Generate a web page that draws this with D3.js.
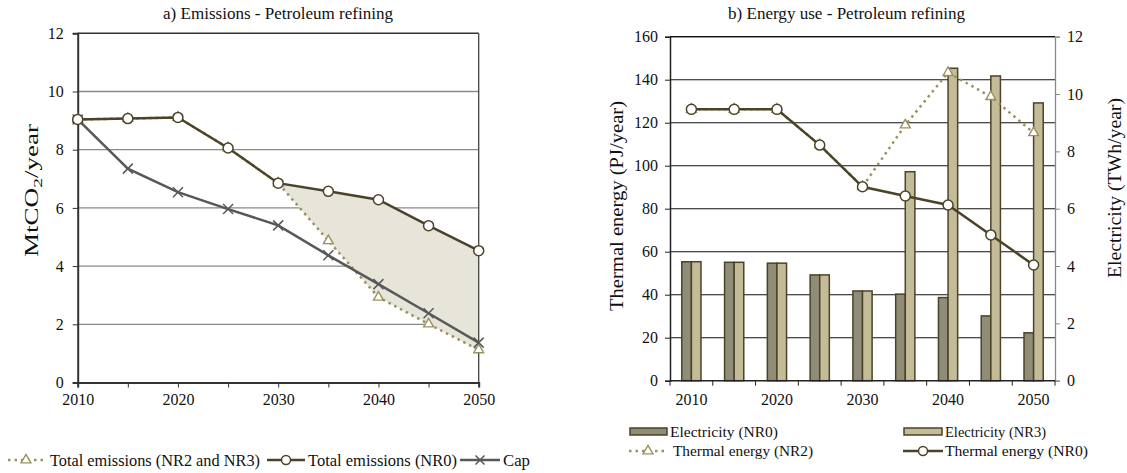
<!DOCTYPE html>
<html><head><meta charset="utf-8">
<script src="https://cdn.jsdelivr.net/npm/d3@7"></script>
<style>body{margin:0;background:#fff}svg{display:block}svg text{font-family:"Liberation Serif","Tinos","Times New Roman","DejaVu Serif",serif !important;fill:#111}</style>
</head><body><svg id="c" width="1127" height="473"></svg>
<script>
// ---- data ----
const years = [2010,2015,2020,2025,2030,2035,2040,2045,2050];
const emisNR0 = [9.04,9.07,9.11,8.06,6.85,6.57,6.28,5.39,4.53];
const emisNR23 = [9.04,9.07,9.11,8.06,6.85,4.87,2.93,2.01,1.12];
const cap = [9.04,7.35,6.54,5.96,5.40,4.37,3.38,2.38,1.37];
const elecNR0 = [4.15,4.13,4.10,3.69,3.13,3.02,2.90,2.26,1.67];   // TWh
const elecNR3 = [4.15,4.13,4.10,3.69,3.13,7.29,10.90,10.63,9.69]; // TWh
const thermNR0 = [126.2,126.2,126.2,109.6,90.2,85.9,81.7,67.8,53.8]; // PJ
const thermNR2 = [126.2,126.2,126.2,109.6,90.2,118.9,143.3,132.1,115.3]; // PJ
const leftYTicks = [0,2,4,6,8,10,12];
const xLabels = [2010,2020,2030,2040,2050];
const rightYTicks = [0,20,40,60,80,100,120,140,160];
const rightY2Ticks = [0,2,4,6,8,10,12];

const FONT = '"Liberation Serif","Tinos","Times New Roman","DejaVu Serif",serif';
const C = {dark:"#4b4327", cap:"#58585a", olive:"#9b9160", fill:"#e7e5d9", b0:"#8f8c78", b3:"#c4bc98", grid:"#8a8a8a"};
const svg = d3.select("#c").attr("font-family",FONT);
const TICK = 16;

function txt(g, x, y, s, size, len, anchor){
  const t = g.append("text").attr("x",x).attr("y",y).attr("font-size",size).text(s);
  if(anchor) t.attr("text-anchor",anchor);
  if(len) t.attr("textLength",len).attr("lengthAdjust","spacingAndGlyphs");
  return t;
}

// ================= Left chart =================
const L = {x0:77.7, x1:478.7, y0:382.5, y1:33.3};
const xL = d3.scaleLinear().domain([2010,2050]).range([L.x0,L.x1]);
const yL = d3.scaleLinear().domain([0,12]).range([L.y0,L.y1]);
const gL = svg.append("g");

gL.selectAll(".gl").data(leftYTicks.filter(d=>d>0&&d<12)).join("line")
  .attr("x1",L.x0).attr("x2",L.x1).attr("y1",d=>yL(d)).attr("y2",d=>yL(d))
  .attr("stroke",C.grid).attr("stroke-width",1.3);

const idx = years.map((y,i)=>i).filter(i=>years[i]>=2030);
gL.append("path").datum(idx)
  .attr("d", d3.area().x(i=>xL(years[i])).y0(i=>yL(emisNR23[i])).y1(i=>yL(emisNR0[i])))
  .attr("fill",C.fill);

gL.append("line").attr("x1",L.x0).attr("x2",L.x1).attr("y1",L.y1).attr("y2",L.y1).attr("stroke","#333").attr("stroke-width",1.5);
gL.append("line").attr("x1",L.x1).attr("x2",L.x1).attr("y1",L.y1).attr("y2",L.y0).attr("stroke","#444").attr("stroke-width",1.3);

function styleAxis(ax, col, w){
  ax.attr("font-family",FONT);
  ax.select(".domain").attr("stroke",col).attr("stroke-width",w);
  ax.selectAll(".tick line").attr("stroke",col);
  ax.selectAll("text").attr("font-size",TICK).attr("font-family",FONT).attr("fill","#111");
}
const axL = gL.append("g").attr("transform",`translate(${L.x0},0)`)
  .call(d3.axisLeft(yL).tickValues(leftYTicks).tickSize(5).tickPadding(9));
styleAxis(axL,"#333",2);
const axLb = gL.append("g").attr("transform",`translate(0,${L.y0})`)
  .call(d3.axisBottom(xL).tickValues(years).tickSize(5).tickPadding(6).tickFormat(d=>xLabels.includes(d)?d:""));
styleAxis(axLb,"#333",2);

const lineL = arr => d3.line().x((d,i)=>xL(years[i])).y(d=>yL(d))(arr);
gL.append("path").attr("d",lineL(emisNR23)).attr("fill","none").attr("stroke",C.olive).attr("stroke-width",2.5).attr("stroke-dasharray","2.5,4");
const tri = d3.symbol().type(d3.symbolTriangle).size(42);
gL.selectAll(".t").data(emisNR23).join("path").attr("d",tri)
  .attr("transform",(d,i)=>`translate(${xL(years[i])},${yL(d)})`).attr("fill","#fff").attr("stroke",C.olive).attr("stroke-width",1.4);
gL.append("path").attr("d",lineL(cap)).attr("fill","none").attr("stroke",C.cap).attr("stroke-width",2.5);
gL.selectAll(".x").data(cap).join("path")
  .attr("d","M-5,-5L5,5M-5,5L5,-5")
  .attr("transform",(d,i)=>`translate(${xL(years[i])},${yL(d)})`).attr("stroke",C.cap).attr("stroke-width",1.5);
gL.append("path").attr("d",lineL(emisNR0)).attr("fill","none").attr("stroke",C.dark).attr("stroke-width",2.5);
gL.selectAll(".c").data(emisNR0).join("circle").attr("cx",(d,i)=>xL(years[i])).attr("cy",d=>yL(d)).attr("r",5)
  .attr("fill","#fff").attr("stroke",C.dark).attr("stroke-width",1.5);

txt(gL,278,18.5,"a) Emissions - Petroleum refining",16,230,"middle");
const yt = gL.append("text").attr("transform","translate(38,190.5) rotate(-90)").attr("text-anchor","middle")
  .attr("font-size",18).attr("textLength",133).attr("lengthAdjust","spacingAndGlyphs");
yt.append("tspan").text("MtCO");
yt.append("tspan").attr("font-size",13).attr("dy",4).text("2");
yt.append("tspan").attr("dy",-4).text("/year");

const lg = gL.append("g").attr("transform","translate(0,460)");
lg.append("line").attr("x1",8).attr("x2",43).attr("stroke",C.olive).attr("stroke-width",2.5).attr("stroke-dasharray","2.5,4");
lg.append("path").attr("d",tri).attr("transform","translate(26,0)").attr("fill","#fff").attr("stroke",C.olive).attr("stroke-width",1.4);
txt(lg,50,5.5,"Total emissions (NR2 and NR3)",16,210);
lg.append("line").attr("x1",267).attr("x2",305).attr("stroke",C.dark).attr("stroke-width",2.5);
lg.append("circle").attr("cx",286).attr("r",4.5).attr("fill","#fff").attr("stroke",C.dark).attr("stroke-width",1.5);
txt(lg,308,5.5,"Total emissions (NR0)",16,149);
lg.append("line").attr("x1",460).attr("x2",500).attr("stroke",C.cap).attr("stroke-width",2.5);
lg.append("path").attr("d","M-4.5,-4.5L4.5,4.5M-4.5,4.5L4.5,-4.5").attr("transform","translate(480,0)").attr("stroke",C.cap).attr("stroke-width",1.5);
txt(lg,503,5.5,"Cap",16,27);

// ================= Right chart =================
const R = {x0:670, x1:1055, y0:380.7, y1:36.7};
const xR = d3.scaleBand().domain(years).range([R.x0,R.x1]);
const yR = d3.scaleLinear().domain([0,160]).range([R.y0,R.y1]);
const yR2 = d3.scaleLinear().domain([0,12]).range([R.y0,R.y1]);
const gR = svg.append("g");

gR.selectAll(".gr").data(rightYTicks.filter(d=>d>0)).join("line")
  .attr("x1",R.x0).attr("x2",R.x1).attr("y1",d=>yR(d)).attr("y2",d=>yR(d))
  .attr("stroke","#111").attr("stroke-width",1.1);

const bw = 9.6;
const cx = y => xR(y)+xR.bandwidth()/2;
gR.selectAll(".b0").data(elecNR0).join("rect")
  .attr("x",(d,i)=>cx(years[i])-bw).attr("width",bw).attr("y",d=>yR2(d)).attr("height",d=>R.y0-yR2(d))
  .attr("fill",C.b0).attr("stroke",C.dark).attr("stroke-width",1.5);
gR.selectAll(".b3").data(elecNR3).join("rect")
  .attr("x",(d,i)=>cx(years[i])).attr("width",bw).attr("y",d=>yR2(d)).attr("height",d=>R.y0-yR2(d))
  .attr("fill",C.b3).attr("stroke",C.dark).attr("stroke-width",1.5);

const axR = gR.append("g").attr("transform",`translate(${R.x0},0)`)
  .call(d3.axisLeft(yR).tickValues(rightYTicks).tickSize(5).tickPadding(7));
styleAxis(axR,"#222",1.5);
const axR2 = gR.append("g").attr("transform",`translate(${R.x1},0)`)
  .call(d3.axisRight(yR2).tickValues(rightY2Ticks).tickSize(5).tickPadding(7));
styleAxis(axR2,"#888",1.3);
const xb = gR.append("g").attr("transform",`translate(0,${R.y0})`);
xb.append("line").attr("x1",R.x0).attr("x2",R.x1).attr("stroke","#222").attr("stroke-width",1.5);
const edges = years.map(y=>xR(y)).concat([R.x1]);
xb.selectAll(".et").data(edges).join("line").attr("x1",d=>d).attr("x2",d=>d).attr("y1",0).attr("y2",5).attr("stroke","#222");
xb.selectAll(".lbl").data(years.filter(y=>xLabels.includes(y))).join("text")
  .attr("x",d=>cx(d)).attr("y",24).attr("text-anchor","middle").attr("font-size",TICK).text(d=>d);

gR.append("line").attr("x1",R.x0).attr("x2",R.x1).attr("y1",R.y1).attr("y2",R.y1).attr("stroke","#111").attr("stroke-width",1.3);

const lineR = arr => d3.line().x((d,i)=>cx(years[i])).y(d=>yR(d))(arr);
gR.append("path").attr("d",lineR(thermNR2)).attr("fill","none").attr("stroke",C.olive).attr("stroke-width",2.5).attr("stroke-dasharray","2.5,4");
gR.selectAll(".t").data(thermNR2).join("path").attr("d",tri)
  .attr("transform",(d,i)=>`translate(${cx(years[i])},${yR(d)})`).attr("fill","#fff").attr("stroke",C.olive).attr("stroke-width",1.4);
gR.append("path").attr("d",lineR(thermNR0)).attr("fill","none").attr("stroke",C.dark).attr("stroke-width",2.5);
gR.selectAll(".c").data(thermNR0).join("circle").attr("cx",(d,i)=>cx(years[i])).attr("cy",d=>yR(d)).attr("r",5)
  .attr("fill","#fff").attr("stroke",C.dark).attr("stroke-width",1.5);

txt(gR,846.5,18.5,"b) Energy use - Petroleum refining",16,237,"middle");
gR.append("text").attr("transform","translate(623,206) rotate(-90)").attr("text-anchor","middle").attr("font-size",19.5)
  .attr("textLength",210).attr("lengthAdjust","spacingAndGlyphs").text("Thermal energy (PJ/year)");
gR.append("text").attr("transform","translate(1121,188) rotate(-90)").attr("text-anchor","middle").attr("font-size",19.5)
  .attr("textLength",180).attr("lengthAdjust","spacingAndGlyphs").text("Electricity (TWh/year)");

const lr = gR.append("g");
lr.append("rect").attr("x",630).attr("y",428).attr("width",37).attr("height",7).attr("fill",C.b0).attr("stroke",C.dark).attr("stroke-width",1.5);
txt(lr,670,437,"Electricity (NR0)",15.5,108);
lr.append("rect").attr("x",904).attr("y",428).attr("width",38).attr("height",7).attr("fill",C.b3).attr("stroke",C.dark).attr("stroke-width",1.5);
txt(lr,945,437,"Electricity (NR3)",15.5,101);
lr.append("line").attr("x1",629).attr("x2",668).attr("y1",451).attr("y2",451).attr("stroke",C.olive).attr("stroke-width",2.5).attr("stroke-dasharray","2.5,4");
lr.append("path").attr("d",tri).attr("transform","translate(648,451)").attr("fill","#fff").attr("stroke",C.olive).attr("stroke-width",1.4);
txt(lr,673,456,"Thermal energy (NR2)",15.5,140);
lr.append("line").attr("x1",903).attr("x2",943).attr("y1",451).attr("y2",451).attr("stroke",C.dark).attr("stroke-width",2.5);
lr.append("circle").attr("cx",923).attr("cy",451).attr("r",4.5).attr("fill","#fff").attr("stroke",C.dark).attr("stroke-width",1.5);
txt(lr,945,456,"Thermal energy (NR0)",15.5,143);
</script></body></html>
